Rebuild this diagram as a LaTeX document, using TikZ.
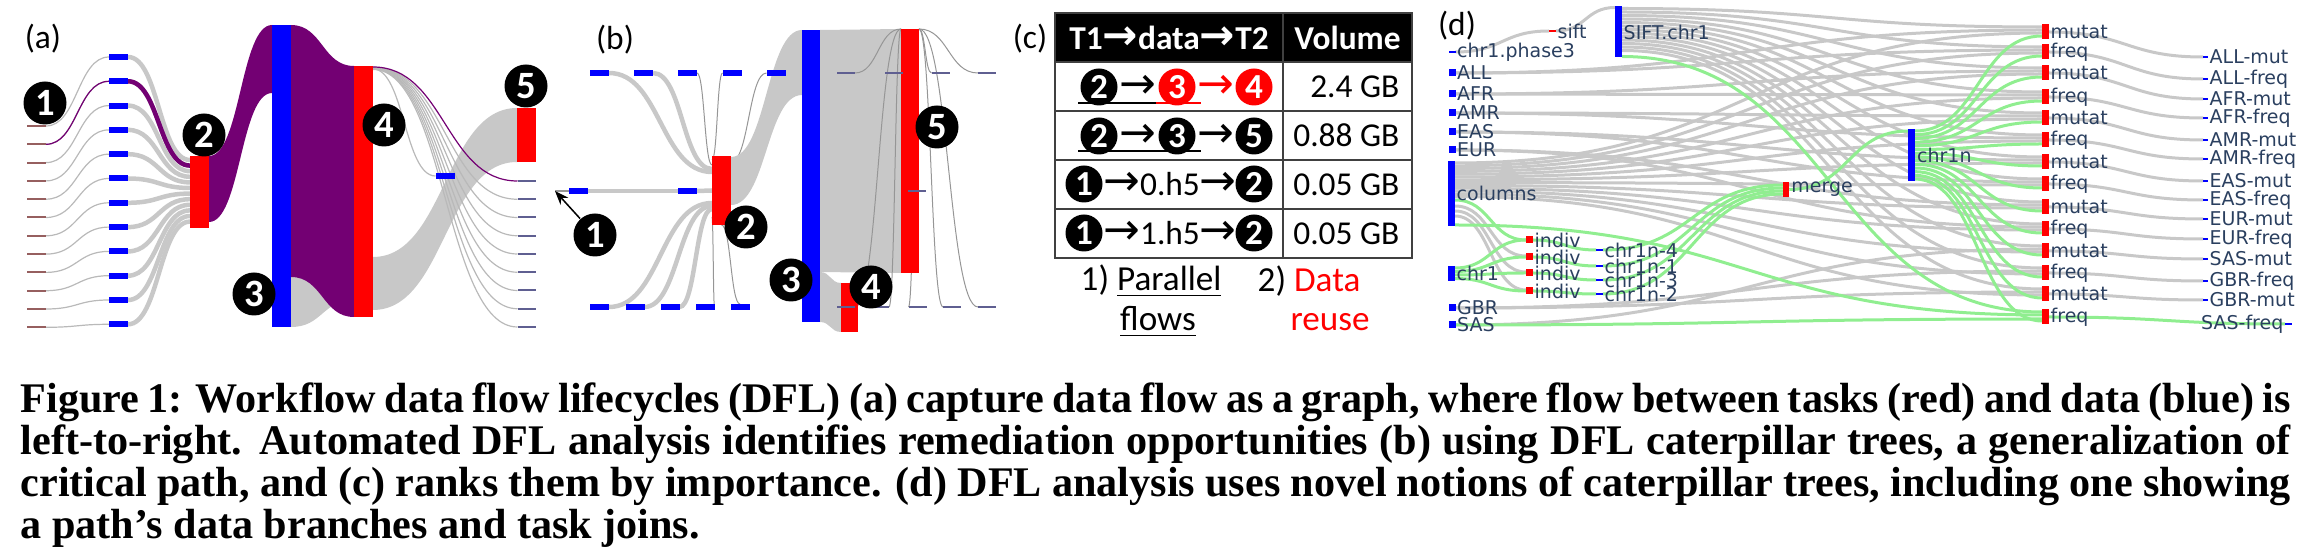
\documentclass[tikz,border=0pt]{standalone}
\usepackage{fontspec}
\setmainfont{Liberation Serif}
\newfontfamily\calfont{Carlito}
\newfontfamily\dvfont{DejaVu Sans}
\usetikzlibrary{positioning,arrows.meta,calc,backgrounds}

\definecolor{dblue}{RGB}{0,0,255}
\definecolor{tred}{RGB}{255,0,0}
\definecolor{fgray}{RGB}{200,200,200}
\definecolor{lgray}{RGB}{185,185,185}
\definecolor{mgray}{RGB}{150,150,150}
\definecolor{purp}{RGB}{115,0,115}
\definecolor{fgreen}{RGB}{144,238,144}
\definecolor{navy}{RGB}{42,63,95}
\definecolor{stubin}{RGB}{150,95,95}
\definecolor{stubout}{RGB}{95,95,145}
\definecolor{grid}{RGB}{64,64,64}

\begin{document}
\begin{tikzpicture}[
    x=0.1mm, y=-0.1mm,
    databar/.style={fill=dblue, inner sep=0pt, outer sep=0pt, minimum width=1.9mm, minimum height=0.6mm},
    taskbar/.style={fill=tred, inner sep=0pt, outer sep=0pt, minimum width=1.9mm},
    stubl/.style={fill=stubin, inner sep=0pt, outer sep=0pt, minimum width=1.9mm, minimum height=0.2mm},
    stubr/.style={fill=stubout, inner sep=0pt, outer sep=0pt, minimum width=1.8mm, minimum height=0.2mm},
    num/.style={circle, fill=black, text=white, inner sep=0pt, minimum size=4.3mm,
                font=\calfont\bfseries\fontsize{11}{11}\selectfont},
    numc/.style={num, minimum size=3.7mm, font=\calfont\bfseries\fontsize{10}{10}\selectfont},
    lab/.style={font=\calfont\fontsize{9.5}{10}\selectfont, inner sep=0pt},
    sk/.style={to path={let \p1=(\tikztostart), \p2=(\tikztotarget) in
               .. controls ({0.5*(\x1+\x2)},\y1) and ({0.5*(\x1+\x2)},\y2) .. (\tikztotarget)}},
    hair/.style={draw=lgray, line width=0.12mm},
    hairdark/.style={draw=mgray, line width=0.1mm},
    flow/.style={draw=fgray, line width=0.45mm},
    cell/.style={draw=grid, line width=0.25mm, inner sep=0pt, minimum height=4.9mm},
    hdr/.style={cell, fill=black, text=white, font=\calfont\bfseries\fontsize{9.5}{10}\selectfont},
    txt/.style={font=\calfont\fontsize{9.5}{10}\selectfont, inner sep=0pt},
    arw/.style={font=\dvfont\fontsize{12.5}{12}\selectfont, inner sep=0pt},
    note/.style={font=\calfont\fontsize{10}{11}\selectfont, inner sep=0pt},
    dsq/.style={fill=dblue, inner sep=0pt, outer sep=0pt, minimum width=0.7mm, minimum height=0.7mm},
    tsq/.style={dsq, fill=tred},
    dlab/.style={font=\dvfont\fontsize{5.4}{6}\selectfont, text=navy, inner sep=0pt},
    dflow/.style={draw=fgray, line width=0.3mm},
    gflow/.style={draw=fgreen, line width=0.3mm},
    captxt/.style={font=\bfseries\fontsize{12}{13}\selectfont, inner sep=0pt, anchor=base west}
  ]
  \useasboundingbox (0,0) rectangle (2318,560);

  % ========= (a) whole lifecycle =========
  \node[lab] (lbl-a) at (43,39) {(a)};
  \foreach \i in {0,...,11}{
    \node[stubl] (al\i) at (36.5,126+18.3*\i) {};
    \node[databar] (ad\i) at (118.5,57+24.3*\i) {};
  }
  \node[taskbar, minimum height=7.2mm] (a2) at (199.5,192) {};
  \node[databar, minimum height=30.2mm] (a3) at (281.5,176) {};
  \node[taskbar, minimum height=25.1mm] (a4) at (363.5,191.5) {};
  \node[taskbar, minimum height=5.4mm] (a5) at (526.5,135) {};
  \node[databar] (ad12) at (445,176) {};
  \foreach \i in {0,...,8}
    \node[stubr] (ar\i) at (526.5,181+18.25*\i) {};

  \node[num] (na1) at (45,103) {1};
  \node[num] (na2) at (204,135) {2};
  \node[num] (na3) at (254,294) {3};
  \node[num] (na4) at (384,125) {4};
  \node[num] (na5) at (526,86) {5};

  \begin{scope}[on background layer]
    \foreach \i in {0,...,11}{
      \draw[hair] (al\i.east) to[sk] (ad\i.west);
      \draw[flow] (ad\i.east) to[sk] ($(a2.north west)+(0,4+5.6*\i)$);
    }
    \draw[draw=purp, line width=0.12mm] (al1.east) to[sk] (ad1.west);
    \draw[draw=purp, line width=0.45mm] (ad1.east) to[sk] ($(a2.north west)+(0,9.6)$);
    \fill[purp] (a2.north east) to[sk] (a3.north west) -- ($(a3.north west)+(0,68)$)
      to[sk] ($(a2.north east)+(0,66)$) -- cycle;
    \fill[fgray] ($(a3.south east)+(0,-50)$) to[sk] ($(a4.south west)+(0,-62)$)
      -- ($(a4.south west)+(0,-17)$) to[sk] (a3.south east) -- cycle;
    \fill[purp] (a3.north east) to[sk] (a4.north west) -- (a4.south west)
      to[sk] ($(a3.south east)+(0,-50)$) -- cycle;
    \fill[fgray] ($(a4.south east)+(0,-60)$) to[sk] (a5.north west) -- (a5.south west)
      to[sk] ($(a4.south east)+(0,-7)$) -- cycle;
    \draw[hair] ($(a4.north east)+(0,3)$) to[sk] (ad12.west);
    \draw[draw=fgray, line width=0.3mm] (ad12.east) to[sk] ($(a5.south west)+(0,-3)$);
    \foreach \i in {1,...,8}
      \draw[hair] ($(a4.north east)+(0,1+0.3*\i)$) to[sk] (ar\i.west);
    \draw[draw=purp, line width=0.12mm] ($(a4.north east)+(0,1)$) to[sk] (ar0.west);
  \end{scope}

  % ========= (b) caterpillar tree =========
  \node[lab] (lbl-b) at (615,40) {(b)};
  \foreach \i/\xx in {0/599.5,1/643.5,2/687.5,3/732,4/776}
    \node[databar] (bt\i) at (\xx,73) {};
  \foreach \i/\xx in {0/599.5,1/635,2/670,3/705,4/740}
    \node[databar] (bb\i) at (\xx,307) {};
  \node[stubr, minimum width=1.4mm, fill=mgray] (bm0) at (562,191) {};
  \node[databar] (bm1) at (578,191) {};
  \node[databar] (bm2) at (687.5,191) {};
  \node[taskbar, minimum height=6.9mm] (b2) at (721.5,190.5) {};
  \node[databar, minimum width=1.8mm, minimum height=29.2mm] (b3) at (811,176) {};
  \node[taskbar, minimum width=1.8mm, minimum height=24.4mm] (b5) at (910,151) {};
  \node[taskbar, minimum width=1.7mm, minimum height=4.9mm] (b4) at (849.5,307.5) {};
  \foreach \i/\xx in {0/846,1/893.5,2/940.5,3/987}
    \node[stubr] (tr\i) at (\xx,73) {};
  \foreach \i/\xx in {0/846,1/880,2/917.5,3/952,4/987}
    \node[stubr] (br\i) at (\xx,307) {};
  \node[stubr] (mr0) at (917,191) {};

  \node[num] (nb1) at (595,235) {1};
  \node[num] (nb2) at (746,227) {2};
  \node[num] (nb3) at (791,280) {3};
  \node[num] (nb4) at (871,287) {4};
  \node[num] (nb5) at (937,127) {5};
  \draw[-{Stealth[length=1.4mm]}, line width=0.15mm] (nb1) -- (bm0.west);

  \begin{scope}[on background layer]
    \draw[flow] (bt0.east) to[sk] ($(b2.north west)+(0,16)$);
    \draw[flow] (bt1.east) to[sk] ($(b2.north west)+(0,13)$);
    \draw[hairdark] (bt2.east) to[sk] ($(b2.north west)+(0,9)$);
    \draw[hairdark] (bt3.west) to[sk] ($(b2.north west)+(0,4)$);
    \draw[hairdark] (bt4.west) to[sk] ($(b2.north east)+(0,6)$);
    \draw[hairdark] (bm0.east) -- (bm1.west);
    \draw[flow] (bm1.east) to[sk] (bm2.west);
    \draw[flow] (bm2.east) to[sk] (b2.west);
    \draw[flow] (bb0.east) to[sk] ($(b2.south west)+(0,-22)$);
    \draw[flow] (bb1.east) to[sk] ($(b2.south west)+(0,-19)$);
    \draw[flow] (bb2.east) to[sk] ($(b2.south west)+(0,-16)$);
    \draw[hairdark] (bb3.east) to[sk] ($(b2.south west)+(0,-8)$);
    \draw[hairdark] (b2.south) to[sk] (bb4.north);
    \fill[fgray] ($(b2.north east)+(0,1)$) to[sk] (b3.north west) -- ($(b3.north west)+(0,65)$)
      to[sk] ($(b2.north east)+(0,49)$) -- cycle;
    \fill[fgray] (b3.north east) to[sk] (b5.north west) -- (b5.south west)
      to[sk] ($(b3.south east)+(0,-50)$) -- cycle;
    \fill[fgray] ($(b3.south east)+(0,-50)$) to[sk] (b4.north west) -- (b4.south west)
      to[sk] (b3.south east) -- cycle;
    \draw[hairdark] (tr0.east) to[sk] (b5.north west);
    \draw[hairdark] (tr1.east) to[sk] (b5.north west);
    \draw[hairdark] (br0.east) to[sk] (b5.north west);
    \draw[hairdark] (br1.east) to[sk] (b5.north west);
    \foreach \nd in {tr2,tr3,br2,br3,br4}
      \draw[hairdark] (b5.north east) to[sk] (\nd.west);
  \end{scope}

  % ========= (c) ranked flows =========
  \node[lab] (lbl-c) at (1030,39) {(c)};
  \node[hdr, minimum width=22.8mm] (h-path) at (1169,37.5)
    {T1{\dvfont\bfseries\fontsize{12}{12}\selectfont →}data{\dvfont\bfseries\fontsize{12}{12}\selectfont →}T2};
  \node[hdr, minimum width=12.9mm] (h-vol) at (1347.5,37.5) {Volume};
  \foreach \r/\v in {1/2.4 GB,2/0.88 GB,3/0.05 GB,4/0.05 GB}{
    \node[cell, minimum width=22.8mm] (p\r) at (1169,37.5+49*\r) {};
    \node[cell, minimum width=12.9mm] (v\r) at (1347.5,37.5+49*\r) {};
    \node[txt, anchor=east] (v\r-t) at (1400,37.5+49*\r) {\v};
  }
  \draw[line width=0.25mm] (1078,103) -- (1156,103);
  \draw[line width=0.25mm, tred] (1156,103) -- (1201,103);
  \draw[line width=0.25mm] (1078,151) -- (1201,151);
  \node[numc] (r1a) at (1099,87) {2};
  \node[arw] (r1x) at (1138,87) {→};
  \node[numc, fill=tred] (r1b) at (1177,87) {3};
  \node[arw, text=tred] (r1y) at (1216,87) {→};
  \node[numc, fill=tred] (r1c) at (1254,87) {4};
  \node[numc] (r2a) at (1099,136) {2};
  \node[arw] (r2x) at (1138,136) {→};
  \node[numc] (r2b) at (1177,136) {3};
  \node[arw] (r2y) at (1216,136) {→};
  \node[numc] (r2c) at (1254,136) {5};
  \node[numc] (r3a) at (1084,184) {1};
  \node[txt] (r3x) at (1170,184)
    {{\dvfont\fontsize{12.5}{12}\selectfont →}0.h5{\dvfont\fontsize{12.5}{12}\selectfont →}};
  \node[numc] (r3b) at (1254,184) {2};
  \node[numc] (r4a) at (1084,233) {1};
  \node[txt] (r4x) at (1170,233)
    {{\dvfont\fontsize{12.5}{12}\selectfont →}1.h5{\dvfont\fontsize{12.5}{12}\selectfont →}};
  \node[numc] (r4b) at (1254,233) {2};
  \node[note, anchor=west] (par1) at (1080,281) {1) \underline{Parallel}};
  \node[note] (par2) at (1158,322) {\underline{flows}};
  \node[note, anchor=west] (reu1) at (1257,281) {2) \textcolor{tred}{Data}};
  \node[note, text=tred] (reu2) at (1330,322) {reuse};

  % ========= (d) path with data branches and task joins =========
  \node[lab] (lbl-d) at (1457,26) {(d)};
  \node[dsq, minimum height=0.25mm] (ph3) at (1452,52) {};
  \node[dlab, right=0.1mm of ph3] (ph3-t) {chr1.phase3};
  \foreach \pp/\yy in {ALL/73,AFR/94,AMR/113,EAS/132,EUR/150,GBR/308,SAS/325}{
    \node[dsq] (\pp) at (1452,\yy) {};
    \node[dlab, right=0.1mm of \pp] (\pp-t) {\pp};
  }
  \node[dsq, minimum height=6.5mm] (columns) at (1451.5,193.5) {};
  \node[dlab, right=0.1mm of columns] (columns-t) {columns};
  \node[dsq, minimum height=1.5mm] (chr1) at (1451.5,273.5) {};
  \node[dlab, right=0.1mm of chr1] (chr1-t) {chr1};
  \node[tsq, minimum height=0.25mm] (sift) at (1552.5,31) {};
  \node[dlab, right=0.1mm of sift] (sift-t) {sift};
  \node[dsq, minimum height=5.1mm] (siftc) at (1618.5,32) {};
  \node[dlab, right=0.1mm of siftc] (siftc-t) {SIFT.chr1};
  \foreach \k/\yy in {0/240,1/257,2/273,3/291}{
    \node[tsq] (ind\k) at (1529.5,\yy) {};
    \node[dlab, right=0.1mm of ind\k] (ind\k-t) {indiv};
  }
  \foreach \k/\s/\yy in {0/4/250,1/1/266,2/3/280,3/2/294}{
    \node[dsq, minimum height=0.25mm] (cn\k) at (1599.5,\yy) {};
    \node[dlab, right=0.1mm of cn\k] (cn\k-t) {chr1n-\s};
  }
  \node[tsq, minimum width=0.65mm, minimum height=1.5mm] (merge) at (1786,189.5) {};
  \node[dlab, right=0.15mm of merge] (merge-t) {merge};
  \node[dsq, minimum height=5.2mm] (chr1n) at (1911.5,155) {};
  \node[dlab, right=0.15mm of chr1n] (chr1n-t) {chr1n};
  \foreach \t/\yy/\l in {0/32/mutat,1/52/freq,2/73/mutat,3/97/freq,4/118/mutat,5/140/freq,
      6/162/mutat,7/184/freq,8/207/mutat,9/229/freq,10/251/mutat,11/273/freq,12/294/mutat,13/317/freq}{
    \node[tsq, minimum height=1.5mm] (t\t) at (2045.5,\yy) {};
    \node[dlab, right=0.1mm of t\t] (t\t-t) {\l};
  }
  \foreach \t/\yy/\l in {0/57/ALL-mut,1/79/ALL-freq,2/99/AFR-mut,3/118/AFR-freq,4/140/AMR-mut,
      5/159/AMR-freq,6/181/EAS-mut,7/200/EAS-freq,8/219/EUR-mut,9/239/EUR-freq,10/259/SAS-mut,
      11/281/GBR-freq,12/300/GBR-mut}{
    \node[dsq, minimum width=0.5mm, minimum height=0.25mm] (o\t) at (2205.5,\yy) {};
    \node[dlab, right=0.1mm of o\t] (o\t-t) {\l};
  }
  \node[dsq, minimum width=0.7mm, minimum height=0.25mm] (o13) at (2288.5,324) {};
  \node[dlab, left=0.1mm of o13] (o13-t) {SAS-freq};

  \begin{scope}[on background layer]
    \draw[dflow] (ph3.east) to[sk] (sift.west);
    \draw[dflow] (sift.east) to[sk] ($(siftc.north west)+(0,1)$);
    \foreach \pop/\ta/\tb in {ALL/0/1,AFR/2/3,AMR/4/5,EAS/6/7,EUR/8/9,GBR/11/12}{
      \draw[dflow] (\pop.east) to[sk] ($(t\ta.west)+(0,-2)$);
      \draw[dflow] (\pop.east) to[sk] ($(t\tb.west)+(0,-2)$);
    }
    \draw[dflow] (SAS.east) to[sk] ($(t10.west)+(0,-2)$);
    \foreach \t in {0,...,12}{
      \draw[dflow] ($(siftc.north east)+(0,2+3.5*\t)$) to[sk] ($(t\t.west)+(0,-5)$);
      \draw[dflow] ($(columns.north east)+(0,2+2.8*\t)$) to[sk] ($(t\t.west)+(0,1)$);
      \draw[dflow] (t\t.east) to[sk] (o\t.west);
    }
    \foreach \k in {1,2,3}
      \draw[dflow] ($(columns.north east)+(0,40+5*\k)$) to[sk] ($(ind\k.west)+(0,-1)$);
    % highlighted path
    \draw[gflow] ($(columns.north east)+(0,39)$) to[sk] (ind0.west);
    \foreach \k in {0,...,3}{
      \draw[gflow] ($(chr1.north east)+(0,2+3.5*\k)$) to[sk] (ind\k.west);
      \draw[gflow] (ind\k.east) to[sk] (cn\k.west);
      \draw[gflow] (cn\k.east) to[sk] ($(merge.north west)+(0,3+3*\k)$);
    }
    \draw[gflow] (merge.east) to[sk] ($(chr1n.north west)+(0,2)$);
    \foreach \t in {0,...,13}
      \draw[gflow] ($(chr1n.north east)+(0,2+3.7*\t)$) to[sk] ($(t\t.west)+(0,4)$);
    \draw[gflow] ($(siftc.south east)+(0,-1)$) to[sk] ($(t13.west)+(0,-5)$);
    \draw[gflow] ($(columns.south east)+(0,-1)$) to[sk] ($(t13.west)+(0,-2)$);
    \draw[gflow] (SAS.east) to[sk] ($(t13.west)+(0,2)$);
    \draw[gflow] (t13.east) to[sk] (o13.west);
  \end{scope}

  % ========= caption =========
  \node[captxt] (cap1) at (20,413) {\makebox[227mm][s]{Figure 1: Workflow data flow lifecycles (DFL) (a) capture data flow as a graph, where flow between tasks (red) and data (blue) is}};
  \node[captxt] (cap2) at (20,455) {\makebox[227mm][s]{left-to-right. Automated DFL analysis identifies remediation opportunities (b) using DFL caterpillar trees, a generalization of}};
  \node[captxt] (cap3) at (20,497) {\makebox[227mm][s]{critical path, and (c) ranks them by importance. (d) DFL analysis uses novel notions of caterpillar trees, including one showing}};
  \node[captxt] (cap4) at (20,539) {a path’s data branches and task joins.};

\end{tikzpicture}
\end{document}
